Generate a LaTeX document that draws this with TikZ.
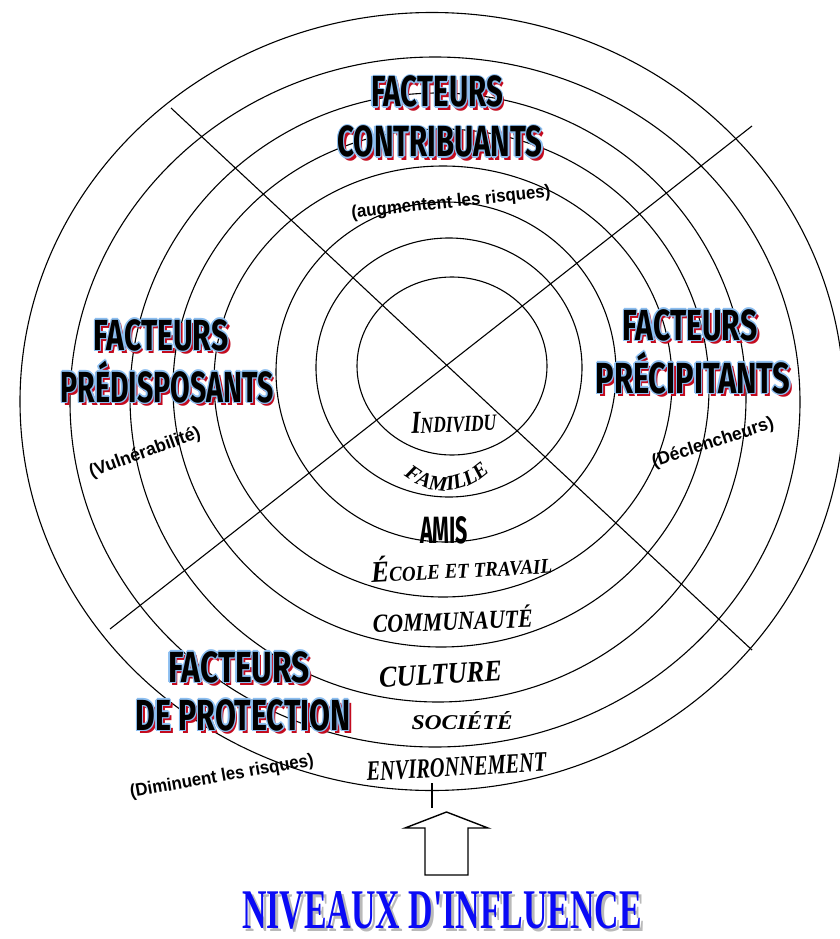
\documentclass[tikz,border=0pt]{standalone}
\usepackage{fontspec}
\setmainfont{Liberation Serif}
\newfontfamily\facfont{Fira Sans}
\newfontfamily\notefont{Liberation Sans}
\usepackage{graphicx}
\usetikzlibrary{decorations.text}
\definecolor{shred}{RGB}{195,10,30}
\definecolor{glowb}{RGB}{140,190,240}
\definecolor{nivblue}{RGB}{10,10,245}
\definecolor{nivgrey}{RGB}{185,185,185}
\newcommand{\fitw}[2]{\resizebox{#1}{\height}{#2}}
\newcommand{\glcopy}[5]{\rlap{\kern#1\raise#2\hbox{\color{#3}\fitw{#4}{#5}}}}
\newcommand{\glw}[2]{%
\glcopy{2.8pt}{-3.6pt}{shred}{#1}{#2}%
\glcopy{-1.4pt}{0pt}{glowb}{#1}{#2}%
\glcopy{1.4pt}{0pt}{glowb}{#1}{#2}%
\glcopy{0pt}{1.4pt}{glowb}{#1}{#2}%
\glcopy{0pt}{-1.4pt}{glowb}{#1}{#2}%
\glcopy{-1pt}{1pt}{glowb}{#1}{#2}%
\glcopy{1pt}{1pt}{glowb}{#1}{#2}%
\glcopy{-1pt}{-1pt}{glowb}{#1}{#2}%
\glcopy{1pt}{-1pt}{glowb}{#1}{#2}%
\hbox{\color{black}\fitw{#1}{#2}}}
\tikzset{
  ring/.style={line width=1.1pt},
  divider/.style={line width=1.1pt},
  facnode/.style={inner sep=0pt, anchor=base, font=\facfont\bfseries\fontsize{43.5}{50}\selectfont},
  notenode/.style={inner sep=0pt, font=\notefont\bfseries\fontsize{18}{20}\selectfont},
  lvl/.style={inner sep=0pt, anchor=base, font=\bfseries\itshape},
  bigarrow/.style={line width=1.4pt, line join=miter, fill=white},
}
\begin{document}
\begin{tikzpicture}[x=1pt,y=-1pt]
\useasboundingbox (0,0) rectangle (840,939);
% concentric rings
\foreach \cx/\cy/\ra/\rb in {452/366/95/89, 449/367.5/133/129.5, 446/372/170/170, 443/381.5/229/215.5, 441/388/268/259, 438/397.5/308/304.5, 435/402/365/345, 432/401.5/412/389}
  \draw[ring] (\cx,\cy) ellipse [x radius=\ra pt, y radius=\rb pt];
% dividers
\coordinate (d1s) at (171,108);
\coordinate (d1e) at (752,650);
\coordinate (d2s) at (752,126);
\coordinate (d2e) at (110,629);
\draw[divider] (d1s) -- (d1e);
\draw[divider] (d2s) -- (d2e);
% level labels
\node[lvl, rotate=2] (individu) at (454,432) {\fitw{85pt}{\fontsize{32}{32}\selectfont I\fontsize{23}{23}\selectfont NDIVIDU}};
\path[decorate, decoration={text along path, text align=center, text={|\bfseries\itshape\fontsize{21}{21}\selectfont|FAMILLE}}] (398,470) .. controls (425,498) and (467,498) .. (495,466);
\node[inner sep=0pt, anchor=base, font=\facfont\bfseries\fontsize{38}{38}\selectfont] (amis) at (444,543) {\fitw{48pt}{AMIS}};
\node[lvl, rotate=3] (ecole) at (462,578) {\fitw{181pt}{\fontsize{30}{30}\selectfont É\fontsize{21}{21}\selectfont COLE ET TRAVAIL}};
\node[lvl, rotate=2] (commu) at (453,630) {\fitw{160pt}{\fontsize{26}{26}\selectfont COMMUNAUTÉ}};
\node[lvl, rotate=3] (culture) at (441,684) {\fitw{123pt}{\fontsize{30}{30}\selectfont CULTURE}};
\node[lvl] (societe) at (462,729) {\fitw{101pt}{\fontsize{21}{21}\selectfont SOCIÉTÉ}};
\node[lvl, rotate=3] (envir) at (457,776) {\fitw{180pt}{\fontsize{28}{28}\selectfont ENVIRONNEMENT}};
% factor titles
\node[facnode] (c1) at (437,107) {\glw{132pt}{FACTEURS}};
\node[facnode] (c2) at (440,157) {\glw{205pt}{CONTRIBUANTS}};
\node[facnode] (p1) at (161,350) {\glw{135pt}{FACTEURS}};
\node[facnode] (p2) at (167,402) {\glw{213pt}{PRÉDISPOSANTS}};
\node[facnode] (q1) at (690,340) {\glw{135pt}{FACTEURS}};
\node[facnode] (q2) at (693,393) {\glw{195pt}{PRÉCIPITANTS}};
\node[facnode] (r1) at (239,682) {\glw{142pt}{FACTEURS}};
\node[facnode] (r2) at (243,730) {\glw{215pt}{DE PROTECTION}};
% notes
\node[notenode, rotate=6] (n1) at (451,203) {\fitw{200pt}{(augmentent les risques)}};
\node[notenode, rotate=20] (n2) at (145,453) {\fitw{117pt}{(Vulnérabilité)}};
\node[notenode, rotate=18] (n3) at (713,443) {\fitw{127pt}{(Déclencheurs)}};
\node[notenode, rotate=10] (n4) at (222,777) {\fitw{186pt}{(Diminuent les risques)}};
% tick and arrow
\coordinate (tickt) at (432,783);
\coordinate (tickb) at (432,808);
\draw[line width=2.2pt] (tickt) -- (tickb);
\draw[bigarrow] (425,875) -- (425,828) -- (405,828) -- (446.5,812) -- (488,828) -- (468,828) -- (468,875) -- cycle;
% bottom title
\node[inner sep=0pt, anchor=base, text=nivgrey, font=\bfseries\fontsize{56}{56}\selectfont] (nivsh) at (445,931) {\fitw{400pt}{NIVEAUX D\textquotesingle INFLUENCE}};
\node[inner sep=0pt, anchor=base, text=nivblue, font=\bfseries\fontsize{56}{56}\selectfont] (niv) at (442,928) {\fitw{400pt}{NIVEAUX D\textquotesingle INFLUENCE}};
\end{tikzpicture}
\end{document}
